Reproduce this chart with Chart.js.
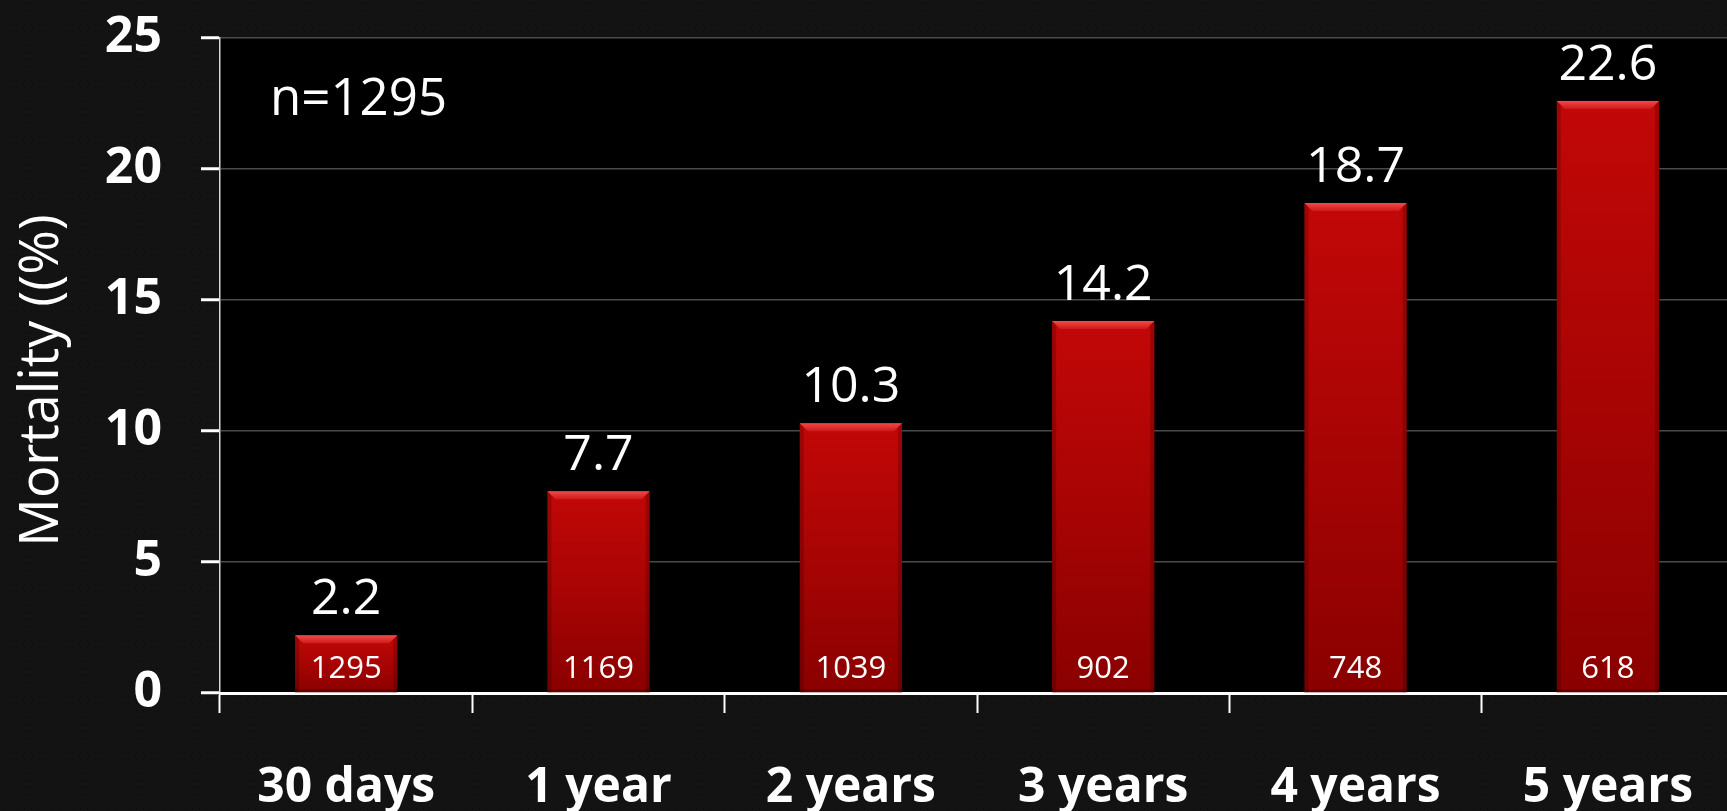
<!DOCTYPE html>
<html>
<head>
<meta charset="utf-8">
<script src="https://cdn.jsdelivr.net/npm/chart.js@4"></script>
<style>
    html, body { margin: 0; padding: 0; background: #131313; overflow: hidden; }
    #wrap { width: 1740px; height: 811px; position: relative; }
</style>
</head>
<body>
<div id="wrap"><canvas id="mortalityChart"></canvas></div>
<script>
const categories = ["30 days", "1 year", "2 years", "3 years", "4 years", "5 years"];
const mortality = [2.2, 7.7, 10.3, 14.2, 18.7, 22.6];
const atRisk = [1295, 1169, 1039, 902, 748, 618];
const yTicks = [0, 5, 10, 15, 20, 25];
const cohortLabel = "n=1295";
const yTitle = "Mortality ((%)";

const FONT = "'Open Sans', 'Liberation Sans', sans-serif";

// dark page with a faint dot grid, black plotting area
const backdrop = {
    id: "backdrop",
    beforeDraw(chart) {
        const { ctx, chartArea, width, height } = chart;
        ctx.save();
        ctx.fillStyle = "#131313";
        ctx.fillRect(0, 0, width, height);
        ctx.fillStyle = "#0b0b0b";
        for (let y = 3; y < height; y += 7) {
            for (let x = 3; x < width; x += 7) {
                ctx.fillRect(x, y, 1, 1);
            }
        }
        ctx.fillStyle = "#000";
        ctx.fillRect(chartArea.left, chartArea.top, chartArea.right - chartArea.left, chartArea.bottom - chartArea.top);

        // rotated y axis title, sitting a little below the plot's middle
        ctx.translate(43, (chartArea.top + chartArea.bottom) / 2 + 15);
        ctx.rotate(-Math.PI / 2);
        ctx.fillStyle = "#fff";
        ctx.font = "400 54px " + FONT;
        ctx.textAlign = "center";
        ctx.textBaseline = "middle";
        ctx.fillText(yTitle, 0, 0);
        ctx.restore();
    }
};

// glossy red bars with a bevelled top, plus value and at-risk labels
const bevelBars = {
    id: "bevelBars",
    afterDatasetsDraw(chart) {
        const { ctx, chartArea } = chart;
        const meta = chart.getDatasetMeta(0);
        ctx.save();
        meta.data.forEach((bar, i) => {
            const { x, y, base, width } = bar.getProps(["x", "y", "base", "width"], true);
            const l = x - width / 2, r = x + width / 2, h = base - y;

            const g = ctx.createLinearGradient(0, y, 0, base);
            g.addColorStop(0, "#c20707");
            g.addColorStop(0.5, "#a80404");
            g.addColorStop(1, "#8a0000");
            ctx.fillStyle = g;
            ctx.fillRect(l, y, width, h);

            // side shading
            ctx.fillStyle = "rgba(0,0,0,0.18)";
            ctx.fillRect(l, y, 4, h);
            ctx.fillRect(r - 4, y, 4, h);

            // top bevel
            const bv = 8;
            const tg = ctx.createLinearGradient(0, y, 0, y + bv);
            tg.addColorStop(0, "#f24a4a");
            tg.addColorStop(1, "#d01818");
            ctx.fillStyle = tg;
            ctx.beginPath();
            ctx.moveTo(l, y);
            ctx.lineTo(r, y);
            ctx.lineTo(r - bv, y + bv);
            ctx.lineTo(l + bv, y + bv);
            ctx.closePath();
            ctx.fill();

            // bottom edge
            ctx.fillStyle = "rgba(0,0,0,0.25)";
            ctx.fillRect(l, base - 3, width, 3);

            ctx.fillStyle = "#fff";
            ctx.textAlign = "center";
            ctx.textBaseline = "alphabetic";
            ctx.font = "400 50px " + FONT;
            ctx.fillText(mortality[i].toFixed(1), x, y - 21);

            ctx.font = "400 31px " + FONT;
            ctx.fillText(String(atRisk[i]), x, base - 14);
        });

        ctx.font = "400 51px " + FONT;
        ctx.textAlign = "left";
        ctx.fillStyle = "#fff";
        ctx.fillText(cohortLabel, chartArea.left + 50, chartArea.top + 77);
        ctx.restore();
    }
};

new Chart(document.getElementById("mortalityChart"), {
    type: "bar",
    data: {
        labels: categories,
        datasets: [{
            data: mortality,
            backgroundColor: "rgba(0,0,0,0)",
            borderWidth: 0,
            barPercentage: 0.81,
            categoryPercentage: 0.5
        }]
    },
    options: {
        responsive: true,
        maintainAspectRatio: false,
        animation: false,
        layout: { padding: { top: 38, right: 0, left: 0, bottom: 0 } },
        plugins: {
            legend: { display: false },
            tooltip: { enabled: false }
        },
        scales: {
            y: {
                min: 0,
                max: 25,
                afterFit(scale) {
                    scale.width = 220;
                    scale.paddingTop = 0;
                    scale.paddingBottom = 0;
                },
                afterBuildTicks(scale) { scale.ticks = yTicks.map(v => ({ value: v })); },
                border: { color: "#d8d8d8", width: 1.5 },
                grid: {
                    color: ctx => ctx.tick && ctx.tick.value === 0 ? "rgba(0,0,0,0)" : "#4a4a4a",
                    lineWidth: 1.5,
                    tickColor: "#fff",
                    tickWidth: 3,
                    tickLength: 19
                },
                ticks: {
                    color: "#fff",
                    padding: 39,
                    font: { family: FONT, size: 50, weight: "bold" }
                }
            },
            x: {
                afterFit(scale) { scale.height = 118; },
                border: { color: "#fff", width: 3 },
                grid: {
                    drawOnChartArea: false,
                    offset: true,
                    tickColor: "#fff",
                    tickWidth: 2,
                    tickLength: 20
                },
                ticks: {
                    color: "#fff",
                    padding: 47,
                    maxRotation: 0,
                    font: { family: FONT, size: 48, weight: "bold" }
                }
            }
        }
    },
    plugins: [backdrop, bevelBars]
});
</script>
</body>
</html>
